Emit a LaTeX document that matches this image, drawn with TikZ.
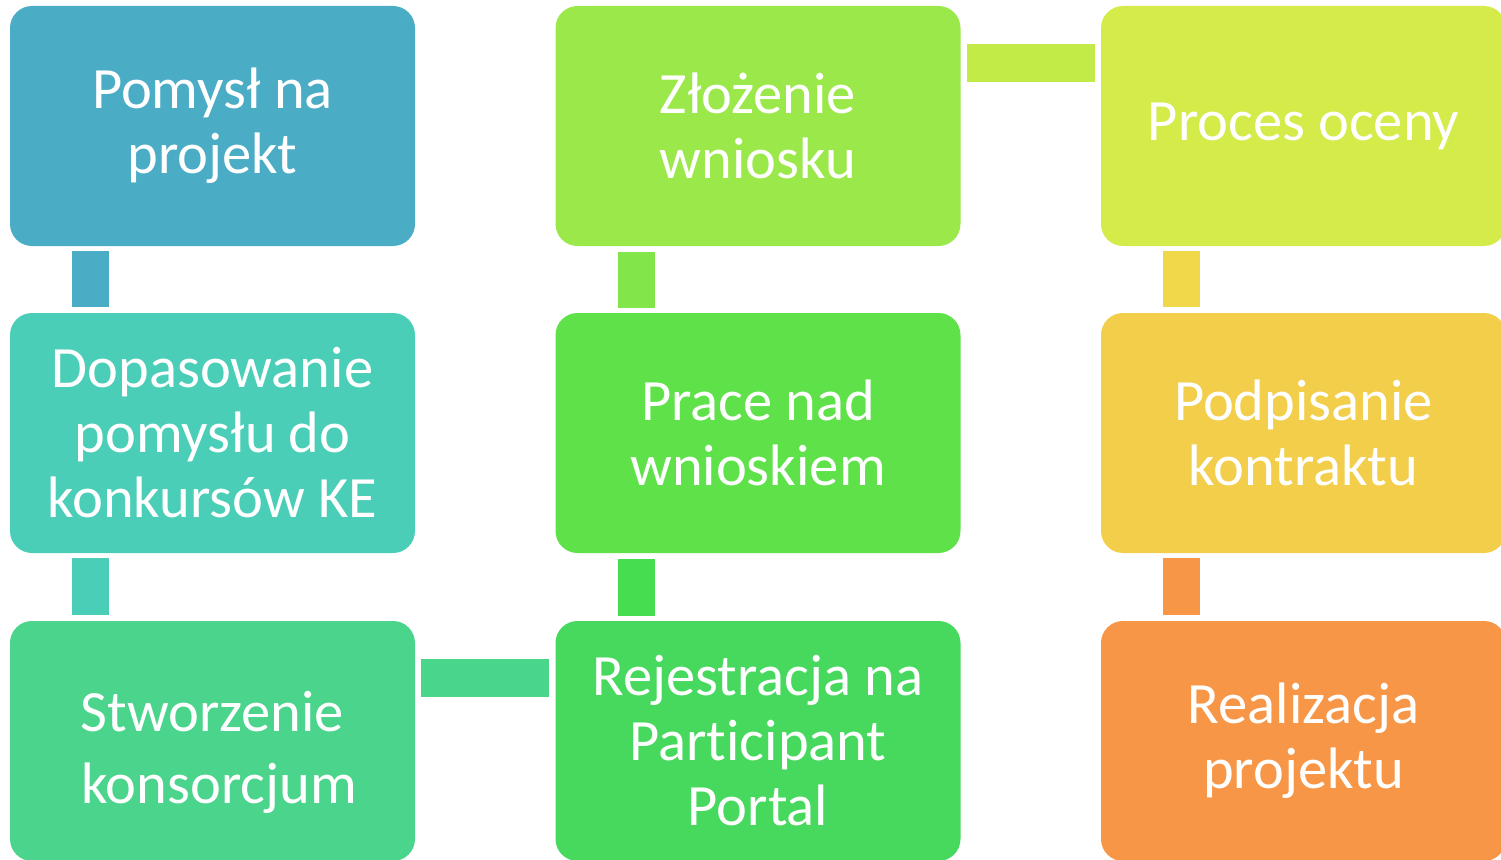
\documentclass[tikz,border=0pt]{standalone}
\usepackage{fontspec}
\setmainfont{Carlito}[Ligatures=NoCommon]
\usetikzlibrary{calc}

\definecolor{kBlue}{RGB}{75,172,198}
\definecolor{kTeal}{RGB}{74,206,184}
\definecolor{kMint}{RGB}{74,212,140}
\definecolor{kLime}{RGB}{155,232,74}
\definecolor{kGreen}{RGB}{95,225,74}
\definecolor{kGreenB}{RGB}{70,217,94}
\definecolor{kYell}{RGB}{212,235,74}
\definecolor{kGold}{RGB}{242,206,74}
\definecolor{kOrange}{RGB}{247,150,70}
\definecolor{kMintBar}{RGB}{74,214,138}
\definecolor{kGreenBar}{RGB}{70,222,80}
\definecolor{kLimeBar}{RGB}{130,230,74}
\definecolor{kYellBar}{RGB}{195,235,72}
\definecolor{kGoldBar}{RGB}{240,216,74}

\tikzset{
  box/.style={rounded corners=11pt, minimum width=202.5pt, minimum height=120pt,
    inner sep=0pt, text width=200pt, align=flush center, text=white,
    font=\fontsize{29.25}{32.5}\selectfont},
  vbar/.style={line width=18.5pt, shorten <=2.5pt, shorten >=3pt},
  hbar/.style={line width=19pt, shorten <=3pt, shorten >=3pt}
}

\begin{document}
\begin{tikzpicture}[x=0.5pt,y=0.5pt]

\useasboundingbox (0,0) rectangle (1501,859);

% first column
\node[box, fill=kBlue]  (pomysl)  at (212.5,733) {Pomysł na\\projekt};
\node[box, fill=kTeal]  (dopas)   at (212.5,426) {Dopasowanie\\pomysłu do\\konkursów KE};
\node[box, fill=kMint]  (konsorc) at (212.5,118)
  {\rule{0pt}{32pt}Stworzenie\\[3.5pt]\hspace*{6.5pt}konsorcjum\rule[-6pt]{0pt}{0pt}};

% second column
\node[box, fill=kLime]   (zlozenie) at (758,733) {Złożenie\\wniosku};
\node[box, fill=kGreen]  (prace)    at (758,426) {Prace nad\\wnioskiem};
\node[box, fill=kGreenB] (rejestr)  at (758,118) {Rejestracja na\\Participant\\Portal};

% third column
\node[box, fill=kYell]   (ocena)    at (1303.5,733) {Proces oceny};
\node[box, fill=kGold]   (kontrakt) at (1303.5,426) {Podpisanie\\kontraktu};
\node[box, fill=kOrange] (realiz)   at (1303.5,118) {Realizacja\\projektu};

% connectors
\draw[vbar, kBlue] ($(pomysl.south west)!0.2!(pomysl.south east)$) -- ($(dopas.north west)!0.2!(dopas.north east)$);
\draw[vbar, kTeal] ($(dopas.south west)!0.2!(dopas.south east)$) -- ($(konsorc.north west)!0.2!(konsorc.north east)$);
\draw[hbar, kMintBar] ($(konsorc.north east)!0.24!(konsorc.south east)$) -- ($(rejestr.north west)!0.24!(rejestr.south west)$);
\draw[vbar, kGreenBar] ($(rejestr.north west)!0.2!(rejestr.north east)$) -- ($(prace.south west)!0.2!(prace.south east)$);
\draw[vbar, kLimeBar] ($(prace.north west)!0.2!(prace.north east)$) -- ($(zlozenie.south west)!0.2!(zlozenie.south east)$);
\draw[hbar, kYellBar] ($(zlozenie.north east)!0.24!(zlozenie.south east)$) -- ($(ocena.north west)!0.24!(ocena.south west)$);
\draw[vbar, kGoldBar] ($(ocena.south west)!0.2!(ocena.south east)$) -- ($(kontrakt.north west)!0.2!(kontrakt.north east)$);
\draw[vbar, kOrange] ($(kontrakt.south west)!0.2!(kontrakt.south east)$) -- ($(realiz.north west)!0.2!(realiz.north east)$);

\end{tikzpicture}
\end{document}
